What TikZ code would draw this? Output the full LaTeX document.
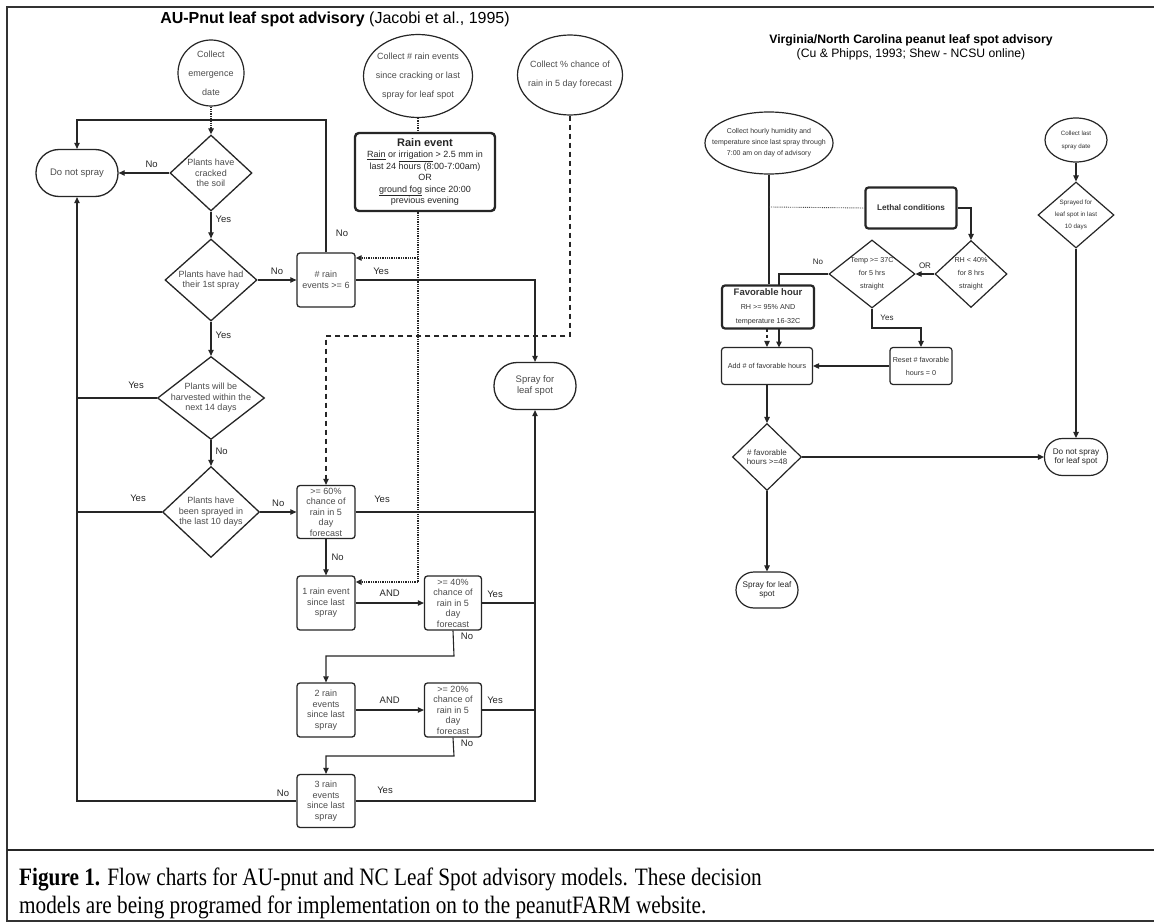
\documentclass[tikz,border=0pt]{standalone}
\usepackage{fontspec}
\setmainfont{Liberation Sans}
\newfontfamily\capfont{Liberation Serif}
\usetikzlibrary{shapes.geometric,arrows.meta}
\begin{document}
\begin{tikzpicture}[x=1pt,y=-1pt,
  ln/.style={draw=black!85, line width=1.1pt},
  ar/.style={ln, -{Triangle[length=6pt,width=5.5pt]}},
  dotl/.style={draw=black!85, line width=1.3pt, densely dotted},
  dotar/.style={dotl, -{Triangle[length=6pt,width=5.5pt]}},
  dec/.style={diamond, draw=black!85, line width=1.3pt, inner sep=0pt},
  bx/.style={rectangle, rounded corners=3pt, draw=black!85, line width=1.3pt, inner sep=0pt, align=center, text=black!70, font=\fontsize{9}{10.5}\selectfont},
  hbx/.style={bx, line width=2.4pt, rounded corners=4pt},
  term/.style={rectangle, rounded corners=#1, draw=black!85, line width=1.3pt, inner sep=0pt, align=center, text=black!70, font=\fontsize{9.5}{11}\selectfont},
  ell/.style={ellipse, draw=black!85, line width=1.2pt, inner sep=0pt},
  tx/.style={text=black!70, align=center, font=\fontsize{9}{10.5}\selectfont, inner sep=0pt},
  lab/.style={text=black!85, font=\fontsize{9.5}{11}\selectfont, inner sep=0pt},
  stx/.style={text=black!80, align=center, font=\fontsize{7.2}{13}\selectfont, inner sep=0pt},
  sbx/.style={bx, line width=1.2pt, font=\fontsize{7.2}{13}\selectfont, text=black!80},
  slab/.style={text=black!85, font=\fontsize{8}{9}\selectfont, inner sep=0pt}
]
\useasboundingbox (0,0) rectangle (1154,923);
\fill[white] (0,0) rectangle (1154,923);
% frame
\draw[black!80, line width=1.2pt] (1154,7) -- (7,7) -- (7,921) -- (1154,921);
\draw[black!85, line width=1.4pt] (7,850) -- (1154,850);

% ===== left chart =====
\node[font=\fontsize{16}{18}\selectfont, inner sep=0pt] (t1) at (335,19) {\textbf{AU-Pnut leaf spot advisory} (Jacobi et al., 1995)};

\node[ell, minimum width=66, minimum height=66, label={[tx, font=\fontsize{9}{19}\selectfont]center:{Collect\\emergence\\date}}] (c1) at (211,73) {};
\node[dec, minimum width=82, minimum height=76, label={[tx]center:{Plants have\\cracked\\the soil}}] (d1) at (211,173) {};
\node[term=23pt, minimum width=82, minimum height=47] (dns) at (77,173) {Do not spray};
\node[dec, minimum width=92, minimum height=82, label={[tx]center:{Plants have had\\their 1st spray}}] (d2) at (211,280) {};
\node[bx, minimum width=58, minimum height=54] (b6) at (326,280) {\# rain\\events >= 6};
\node[term=23pt, minimum width=82, minimum height=47] (spr) at (535,386) {Spray for\\leaf spot};
\node[dec, minimum width=107, minimum height=83, label={[tx]center:{Plants will be\\harvested within the\\next 14 days}}] (d3) at (211,398) {};
\node[dec, minimum width=97, minimum height=91, label={[tx]center:{Plants have\\been sprayed in\\the last 10 days}}] (d4) at (211,512) {};
\node[bx, minimum width=58, minimum height=53] (b60) at (326,512) {>= 60\%\\chance of\\rain in 5\\day\\forecast};
\node[bx, minimum width=58, minimum height=54] (b1) at (326,603) {1 rain event\\since last\\spray};
\node[bx, minimum width=57, minimum height=54] (b40) at (453,603) {>= 40\%\\chance of\\rain in 5\\day\\forecast};
\node[bx, minimum width=58, minimum height=54] (b2) at (326,710) {2 rain\\events\\since last\\spray};
\node[bx, minimum width=57, minimum height=54] (b20) at (453,710) {>= 20\%\\chance of\\rain in 5\\day\\forecast};
\node[bx, minimum width=58, minimum height=53] (b3) at (326,801) {3 rain\\events\\since last\\spray};
\node[ell, minimum width=109, minimum height=83, label={[tx, font=\fontsize{9}{19}\selectfont]center:{Collect \# rain events\\since cracking or last\\spray for leaf spot}}] (c2) at (418,76) {};
\node[ell, minimum width=105, minimum height=80, label={[tx, font=\fontsize{9}{19}\selectfont]center:{Collect \% chance of\\rain in 5 day forecast}}] (c3) at (570,75) {};
\node[hbx, minimum width=140, minimum height=78, text=black!85, font=\fontsize{9}{11.4}\selectfont] (rain) at (425,172)
  {{\fontsize{11}{12}\selectfont\textbf{Rain event}}\\
   \underline{Rain} or \underline{irrigation} > 2.5 mm in\\
   last 24 hours (8:00-7:00am)\\
   OR\\
   \underline{ground fog} since 20:00\\
   previous evening};

% connectors left
\draw[dotar] (c1.south) -- (d1.north);
\draw[ar] (d1.west) -- (dns.east) node[lab, pos=0.35, above=5pt] (l1) {No};
\draw[ar] (b6.north) -- (326,120) -| (dns.north);
\node[lab] (l2) at (342,233) {No};
\draw[ar] (d1.south) -- (d2.north) node[lab, pos=0.3, right=4pt] (l3) {Yes};
\draw[ar] (d2.east) -- (b6.west) node[lab, midway, above=5pt] (l4) {No};
\draw[ar] (b6.east) -| (spr.north);
\node[lab] (l5) at (381,271) {Yes};
\draw[ar] (d2.south) -- (d3.north) node[lab, pos=0.4, right=4pt] (l6) {Yes};
\draw[ln] (d3.west) -- (77,398);
\node[lab] (l7) at (136,385) {Yes};
\draw[ar] (d3.south) -- (d4.north) node[lab, pos=0.45, right=4pt] (l8) {No};
\draw[ln] (d4.west) -- (77,512);
\node[lab] (l9) at (138,498) {Yes};
\draw[ar] (d4.east) -- (b60.west) node[lab, midway, above=5pt] (l10) {No};
\draw[ln] (b60.east) -- (535,512);
\node[lab] (l11) at (382,499) {Yes};
\draw[ar] (b60.south) -- (b1.north) node[lab, midway, right=5pt] (l12) {No};
\draw[ar] (b1.east) -- (b40.west) node[lab, midway, above=6pt] (l13) {AND};
\draw[ln] (b40.east) -- (535,603);
\node[lab] (l14) at (495,594) {Yes};
\draw[ar] (b40.south) -- (454,656) -| (b2.north);
\node[lab] (l15) at (467,636) {No};
\draw[ar] (b2.east) -- (b20.west) node[lab, midway, above=6pt] (l16) {AND};
\draw[ln] (b20.east) -- (535,710);
\node[lab] (l17) at (495,700) {Yes};
\draw[ar] (b20.south) -- (454,756) -| (b3.north);
\node[lab] (l18) at (467,743) {No};
\draw[ar] (b3.west) -- (77,801) -- (dns.south);
\node[lab] (l19) at (283,793) {No};
\draw[ar] (b3.east) -- (535,801) -- (spr.south);
\node[lab] (l20) at (385,790) {Yes};
% dotted rain-event line
\draw[dotl] (c2.south) -- (c2.south |- rain.north);
\draw[dotl] (c2.south |- rain.south) -- (418,582);
\draw[dotar] (418,258) -- (b6.east |- 0,258);
\draw[dotar] (418,582) -- (b1.east |- 0,582);
% dashed forecast line
\draw[ln, dash pattern=on 5pt off 4pt, -{Triangle[length=6pt,width=5.5pt]}] (c3.south) -- (570,336) -- (326,336) -- (b60.north);

% ===== right chart =====
\node[font=\fontsize{12.2}{14}\selectfont, align=center, inner sep=0pt] (t2) at (911,47)
  {\textbf{Virginia/North Carolina peanut leaf spot advisory}\\(Cu \& Phipps, 1993; Shew - NCSU online)};
\node[ell, minimum width=128, minimum height=62, label={[stx, font=\fontsize{7}{11}\selectfont]center:{Collect hourly humidity and\\temperature since last spray through\\7:00 am on day of advisory}}] (e1) at (769,143) {};
\node[ell, minimum width=62, minimum height=44, label={[stx, font=\fontsize{6.2}{13}\selectfont]center:{Collect last\\spray date}}] (e2) at (1076,140) {};
\node[dec, line width=1.2pt, minimum width=76, minimum height=66, label={[stx, font=\fontsize{6.3}{12}\selectfont]center:{Sprayed for\\leaf spot in last\\10 days}}] (dspr) at (1076,215) {};
\node[sbx, line width=2.2pt, minimum width=91, minimum height=41, font=\fontsize{8.2}{9}\selectfont\bfseries] (leth) at (911,208) {Lethal conditions};
\node[dec, line width=1.2pt, minimum width=72, minimum height=67, label={[stx]center:{RH < 40\%\\for 8 hrs\\straight}}] (drh) at (971,274) {};
\node[dec, line width=1.2pt, minimum width=86, minimum height=68, label={[stx]center:{Temp >= 37C\\for 5 hrs\\straight}}] (dtemp) at (872,274) {};
\node[sbx, line width=2.2pt, minimum width=92, minimum height=43, font=\fontsize{7.2}{14}\selectfont] (fav) at (768,307) {{\fontsize{9.5}{10}\selectfont\textbf{Favorable hour}}\\RH >= 95\% AND\\temperature 16-32C};
\node[sbx, minimum width=91, minimum height=37] (add) at (767,366) {Add \# of favorable hours};
\node[sbx, minimum width=62, minimum height=37] (reset) at (921,366) {Reset \# favorable\\hours = 0};
\node[dec, line width=1.2pt, minimum width=69, minimum height=67, label={[stx, font=\fontsize{8}{9}\selectfont]center:{\# favorable\\hours >=48}}] (dfav) at (767,457) {};
\node[term=18pt, line width=1.2pt, minimum width=63, minimum height=37, font=\fontsize{8.2}{9.5}\selectfont, text=black!85] (dns2) at (1076,457) {Do not spray\\for leaf spot};
\node[term=18pt, line width=1.2pt, minimum width=62, minimum height=36, font=\fontsize{8.2}{9.5}\selectfont, text=black!85] (spr2) at (767,590) {Spray for leaf\\spot};

% connectors right
\draw[ln] (e1.south) -- (fav.north -| e1.south);
\draw[draw=black!70, line width=0.9pt, densely dotted] (769,207) -- (leth.west);
\draw[ar] (leth.east) -- (971,208) -- (drh.north);
\draw[ar] (drh.west) -- (dtemp.east) node[slab, midway, above=5pt] (l21) {OR};
\draw[ln] (dtemp.west) -- (779,274) -- (779,286);
\node[slab] (l22) at (818,262) {No};
\draw[ar] (dtemp.south) -- (872,328) -| (reset.north);
\node[slab] (l23) at (887,318) {Yes};
\draw[ln, dashed, -{Triangle[length=6pt,width=5.5pt]}] (767,328.5) -- (add.north);
\draw[ar] (779,328.5) -- (779,347.5);
\draw[ar] (reset.west) -- (add.east);
\draw[ar] (add.south) -- (dfav.north);
\draw[ar] (dfav.east) -- (dns2.west);
\draw[ar] (dfav.south) -- (spr2.north);
\draw[ar] (e2.south) -- (dspr.north);
\draw[ar] (dspr.south) -- (dns2.north);

% ===== caption =====
\node[anchor=base west, inner sep=0pt, font=\capfont\fontsize{25}{29}\selectfont] (cap1) at (19,885)
  {\scalebox{0.85}[1]{\textbf{Figure 1.} Flow charts for AU-pnut and NC Leaf Spot advisory models. These decision}};
\node[anchor=base west, inner sep=0pt, font=\capfont\fontsize{25}{29}\selectfont] (cap2) at (19,913)
  {\scalebox{0.85}[1]{models are being programed for implementation on to the peanutFARM website.}};
\end{tikzpicture}
\end{document}
